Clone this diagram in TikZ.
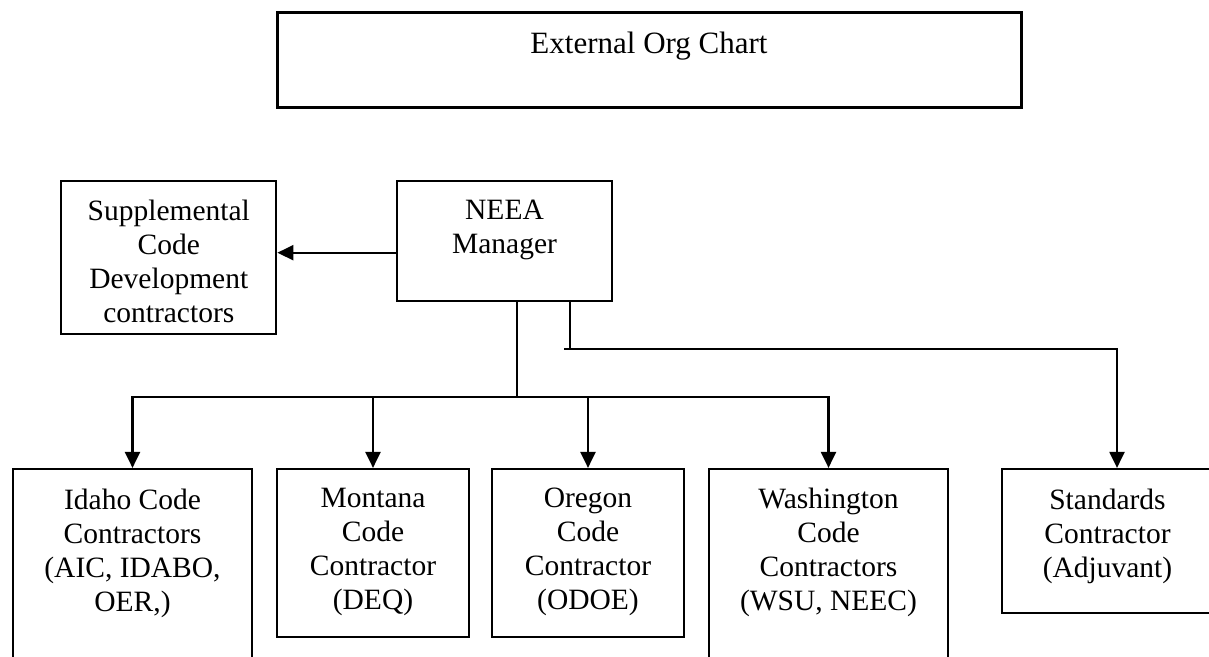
\documentclass[tikz,border=0pt]{standalone}
\usepackage{fontspec}
\setmainfont{Liberation Serif}
\usetikzlibrary{arrows.meta}

\begin{document}
\begin{tikzpicture}[x=1pt,y=-1pt,
  orgbox/.style={draw,line width=2.2pt,inner sep=0pt},
  orgtext/.style={anchor=north,align=center,inner sep=0pt,font=\fontsize{29.5}{34}\selectfont},
  orgline/.style={line width=2.2pt},
  orgarrow/.style={line width=2.2pt,-{Triangle[length=16pt,width=15pt]}}]
  \useasboundingbox (0,0) rectangle (1209,656);
  \node[orgbox,line width=3pt,minimum width=744pt,minimum height=95pt] (title) at (649,60.3) {};
  \node[orgbox,minimum width=215pt,minimum height=153pt] (supp) at (168.8,257.5) {};
  \node[orgbox,minimum width=215pt,minimum height=120pt] (neea) at (504.5,241) {};
  \node[orgbox,minimum width=239pt,minimum height=203pt] (idaho) at (132.5,570.5) {};
  \node[orgbox,minimum width=192pt,minimum height=168pt] (montana) at (373,553) {};
  \node[orgbox,minimum width=192pt,minimum height=168pt] (oregon) at (588,553) {};
  \node[orgbox,minimum width=239pt,minimum height=203pt] (wash) at (828.5,570.5) {};
  \node[orgbox,minimum width=215pt,minimum height=144pt] (std) at (1109.5,541) {};
  \node[orgtext,font=\fontsize{31}{34}\selectfont] (titletxt) at ([yshift=-20pt]title.north) {External Org Chart};
  \node[orgtext] (supptxt) at ([yshift=-20pt]supp.north) {Supplemental\\Code\\Development\\contractors};
  \node[orgtext] (neeatxt) at ([yshift=-20pt]neea.north) {NEEA\\Manager};
  \node[orgtext] (idahotxt) at ([yshift=-21pt]idaho.north) {Idaho Code\\Contractors\\(AIC, IDABO,\\OER,)};
  \node[orgtext] (montanatxt) at ([yshift=-20pt]montana.north) {Montana\\Code\\Contractor\\(DEQ)};
  \node[orgtext] (oregontxt) at ([yshift=-20pt]oregon.north) {Oregon\\Code\\Contractor\\(ODOE)};
  \node[orgtext] (washtxt) at ([yshift=-20pt]wash.north) {Washington\\Code\\Contractors\\(WSU, NEEC)};
  \node[orgtext] (stdtxt) at ([xshift=-2pt,yshift=-21pt]std.north) {Standards\\Contractor\\(Adjuvant)};
  \coordinate (bus) at (517,396.7);
  \coordinate (tee) at (570,348.7);
  \coordinate (bend) at (1117,348.7);
  \draw[orgarrow] ([yshift=-11.7pt]neea.west) -- ([yshift=-11.7pt]neea.west -| supp.east);
  \draw[orgline] (bus |- neea.south) -- (bus);
  \draw[orgline,line cap=rect] (idaho.north |- bus) -- (wash.north |- bus);
  \foreach \b in {idaho,montana,oregon,wash}
    \draw[orgarrow] (\b.north |- bus) -- (\b.north);
  \draw[orgline] (tee |- neea.south) -- (tee);
  \draw[orgline,line cap=rect] ([xshift=-5pt]tee) -- (bend);
  \draw[orgarrow] (bend) -- (bend |- std.north);
\end{tikzpicture}
\end{document}
